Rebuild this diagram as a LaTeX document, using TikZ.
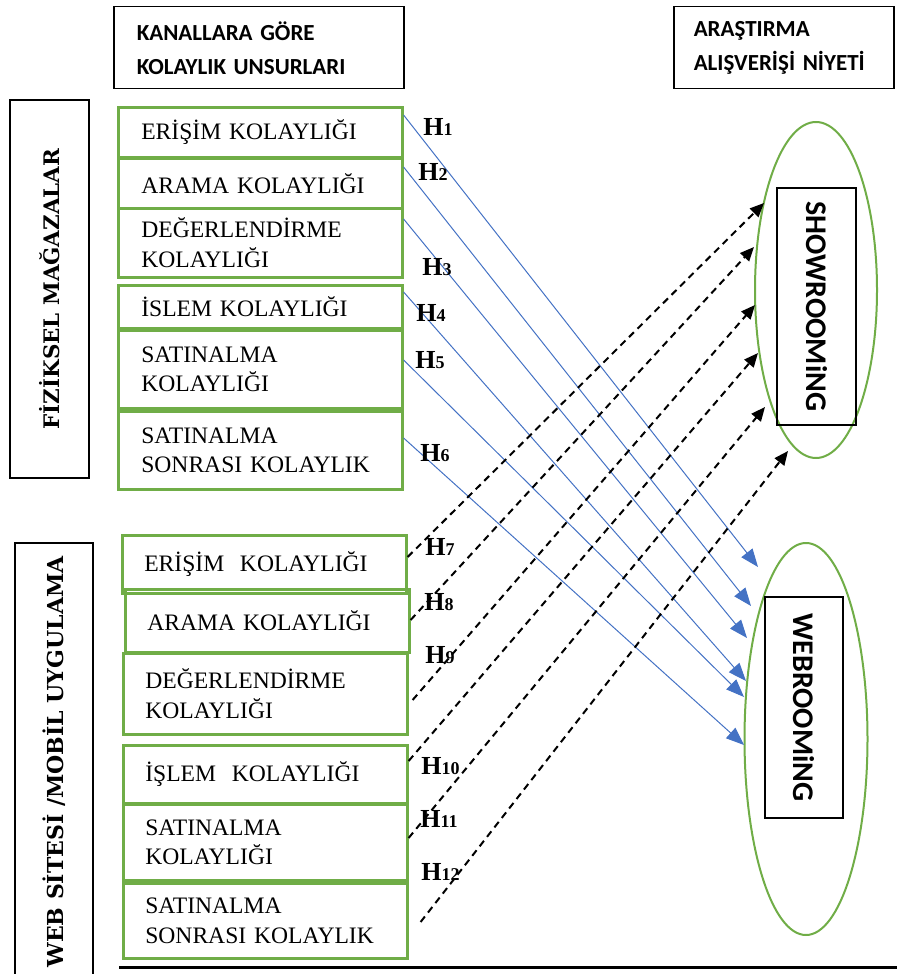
\documentclass[tikz,border=0pt]{standalone}
\usepackage{fontspec}
\setmainfont{Liberation Serif}
\newfontfamily\carl{Carlito}
\newfontfamily\dvserif{DejaVu Serif}
\usetikzlibrary{shapes.geometric,arrows.meta}
\definecolor{gr}{HTML}{70AD47}
\definecolor{bl}{HTML}{4472C4}
\newcommand\hs[1]{{\fontsize{9}{10}\selectfont #1}}
\begin{document}
\begin{tikzpicture}[x=0.5pt,y=-0.5pt,
  gbox/.style={draw=gr, line width=1.3pt, minimum width=142pt, text width=119pt,
    inner xsep=11.5pt, inner ysep=0pt, align=left, anchor=north west,
    font=\fontsize{11.8}{14.75}\selectfont},
  wbox/.style={gbox, text width=120pt, inner xsep=11pt},
  bbox/.style={draw=black, line width=0.75pt, inner sep=0pt},
  hdr/.style={bbox, align=left, anchor=north west, minimum height=41pt,
    font=\carl\bfseries\fontsize{11.5}{17}\selectfont},
  vlab/.style={bbox, rotate=90, font=\dvserif\bfseries\fontsize{10.7}{12}\selectfont},
  rlab/.style={bbox, rotate=-90, font=\carl\bfseries\fontsize{15}{18}\selectfont},
  oval/.style={ellipse, draw=gr, line width=1pt, inner sep=0pt},
  hlab/.style={anchor=west, inner sep=0pt, font=\bfseries\fontsize{13}{15}\selectfont},
  barrow/.style={draw=bl, line width=0.5pt, -{Triangle[length=9pt,width=7pt]}},
  darrow/.style={draw=black, line width=1pt, dash pattern=on 3.5pt off 2.5pt,
    -{Triangle[length=7pt,width=6pt]}}
]
\useasboundingbox (0,0) rectangle (897,974);

% headers
\node[hdr, minimum width=145pt, text width=122pt, inner xsep=11.5pt] (k1) at (113,6)
  {KANALLARA GÖRE\\KOLAYLIK UNSURLARI};
\node[hdr, minimum width=110pt, text width=90pt, inner xsep=10pt] (k2) at (673,6)
  {ARAŞTIRMA\\ALIŞVERİŞİ NİYETİ};

% vertical group labels
\node[vlab, minimum width=189pt, minimum height=39.5pt] (fm) at (49.5,289) {FİZİKSEL MAĞAZALAR};
\node[vlab, minimum width=219pt, minimum height=39pt, font=\dvserif\bfseries\fontsize{11}{12}\selectfont] (wm) at (54,762) {WEB SİTESİ /MOBİL UYGULAMA};

% physical store boxes
\node[gbox, minimum height=25pt] (p1) at (117,106) {ERİŞİM KOLAYLIĞI};
\node[gbox, minimum height=25pt] (p2) at (117,157) {ARAMA KOLAYLIĞI};
\node[gbox, minimum height=34.5pt] (p3) at (117,207) {DEĞERLENDİRME\\KOLAYLIĞI};
\node[gbox, minimum height=21.5pt] (p4) at (117,284) {İSLEM KOLAYLIĞI};
\node[gbox, minimum height=39pt] (p5) at (117,329) {SATINALMA\\KOLAYLIĞI};
\node[gbox, minimum height=39pt] (p6) at (117,410) {SATINALMA\\SONRASI KOLAYLIK};

% web boxes
\node[wbox, minimum height=29pt] (w1) at (121,534) {ERİŞİM\ \ KOLAYLIĞI};
\node[wbox, minimum height=31.5pt] (w2) at (124,588) {ARAMA KOLAYLIĞI};
\node[wbox, minimum height=40.5pt] (w3) at (122,652) {DEĞERLENDİRME\\KOLAYLIĞI};
\node[wbox, minimum height=29pt] (w4) at (122,744) {İŞLEM\ \ KOLAYLIĞI};
\node[wbox, minimum height=38pt] (w5) at (122,803) {SATINALMA\\KOLAYLIĞI};
\node[wbox, minimum height=37.5pt] (w6) at (122,882) {SATINALMA\\SONRASI KOLAYLIK};

% ovals
\node[oval, minimum width=61pt, minimum height=168pt] (so) at (816,290) {};
\node[rlab, minimum width=118.5pt, minimum height=39.5pt] (sr) at (816.5,306.5) {SHOWROOMiNG};
\node[oval, minimum width=61.5pt, minimum height=196pt] (wo) at (806,739) {};
\node[rlab, minimum width=110.5pt, minimum height=39pt] (wr) at (804,707.5) {WEBROOMiNG};

% arrow end points
\coordinate (a1) at (758,567);
\coordinate (a2) at (751,606);
\coordinate (a3) at (747,638);
\coordinate (a4) at (746,681);
\coordinate (a5) at (744,697);
\coordinate (a6) at (744,745);
\coordinate (b1) at (764,203);
\coordinate (b2) at (754,247);
\coordinate (b3) at (755,305);
\coordinate (b4) at (758,353);
\coordinate (b5) at (765,407);
\coordinate (b6) at (788,451);

% solid arrows
\draw[barrow] (p1.east |- 0,115) -- (a1);
\draw[barrow] (p2.east |- 0,167) -- (a2);
\draw[barrow] (p3.east |- 0,219) -- (a3);
\draw[barrow] (p4.east |- 0,292) -- (a4);
\draw[barrow] (p5.east |- 0,360) -- (a5);
\draw[barrow] (p6.east |- 0,438) -- (a6);

% dashed arrows
\draw[darrow] (w1.east |- 0,557) -- (b1);
\draw[darrow] (w2.east |- 0,620) -- (b2);
\draw[darrow] ([xshift=2pt]w3.east |- 0,700) -- (b3);
\draw[darrow] (w4.east |- 0,761) -- (b4);
\draw[darrow] (w5.east |- 0,838) -- (b5);
\draw[darrow] ([xshift=6pt]w6.east |- 0,922) -- (b6);

% hypothesis labels
\node[hlab] (h1) at (423,127) {H\hs{1}};
\node[hlab] (h2) at (418,172) {H\hs{2}};
\node[hlab] (h3) at (422,267) {H\hs{3}};
\node[hlab] (h4) at (416,313) {H\hs{4}};
\node[hlab] (h5) at (415,360) {H\hs{5}};
\node[hlab] (h6) at (420,453) {H\hs{6}};
\node[hlab] (h7) at (425,547) {H\hs{7}};
\node[hlab] (h8) at (424,602) {H\hs{8}};
\node[hlab] (h9) at (425,655) {H\hs{9}};
\node[hlab] (h10) at (421,766) {H\hs{10}};
\node[hlab] (h11) at (420,819) {H\hs{11}};
\node[hlab] (h12) at (421,872) {H\hs{12}};

% bottom rule
\coordinate (r1) at (119,967);
\coordinate (r2) at (897,967);
\draw[line width=1.5pt] (r1) -- (r2);
\end{tikzpicture}
\end{document}
